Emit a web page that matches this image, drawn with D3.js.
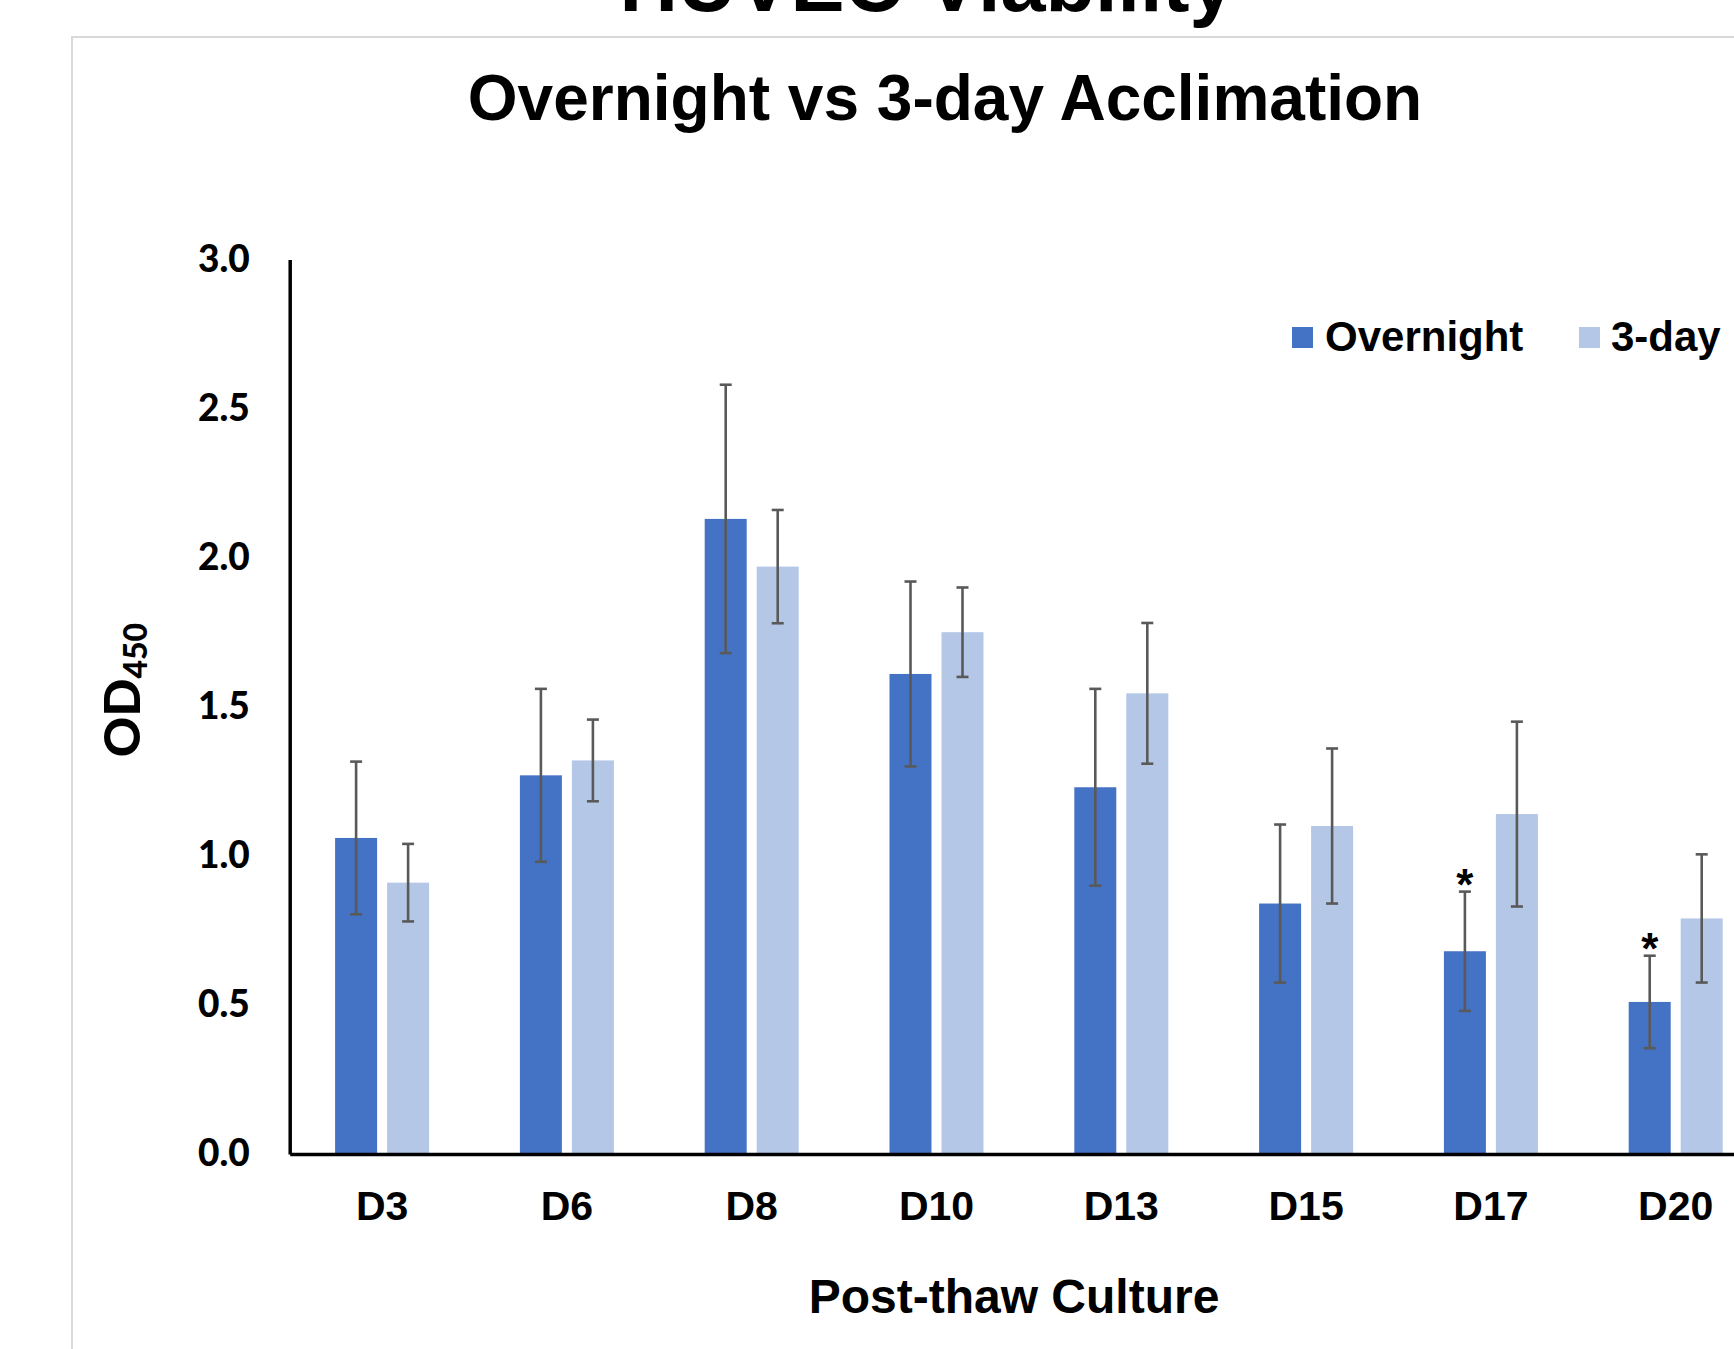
<!DOCTYPE html>
<html>
<head>
<meta charset="utf-8">
<script src="https://cdn.jsdelivr.net/npm/d3@7"></script>
<style>
  html, body { margin: 0; padding: 0; background: #ffffff; }
  svg { display: block; }
</style>
</head>
<body>
<script>
// Post-thaw viability (OD450) by culture day, overnight vs 3-day acclimation
const categories = ["D3", "D6", "D8", "D10", "D13", "D15", "D17", "D20"];
const seriesNames = ["Overnight", "3-day"];
const overnight = [1.06, 1.27, 2.13, 1.61, 1.23, 0.84, 0.68, 0.51];
const threeDay = [0.91, 1.32, 1.97, 1.75, 1.545, 1.10, 1.14, 0.79];
const overnightErr = [0.256, 0.29, 0.45, 0.31, 0.33, 0.265, 0.20, 0.155];
const threeDayErr = [0.13, 0.137, 0.19, 0.15, 0.236, 0.26, 0.31, 0.215];
const significant = ["D17", "D20"]; // overnight groups marked with *
const yTicks = [0.0, 0.5, 1.0, 1.5, 2.0, 2.5, 3.0];

const W = 1734, H = 1349;
const colors = { "Overnight": "#4472C4", "3-day": "#B4C7E7" };
const arial = "'Liberation Sans', Arial, sans-serif";
const calibri = "Lato, 'Open Sans', sans-serif";

const svg = d3.select("body").append("svg")
  .attr("width", W).attr("height", H);

// outer figure title (runs off the top edge)
svg.append("text")
  .attr("x", 927).attr("y", 11)
  .attr("text-anchor", "middle")
  .style("font-family", arial).style("font-weight", "bold")
  .style("font-size", "81px").attr("fill", "#000")
  .text("HUVEC Viability");

// chart frame
svg.append("rect")
  .attr("x", 72).attr("y", 37)
  .attr("width", 2000).attr("height", 2000)
  .attr("fill", "#fff").attr("stroke", "#d9d9d9").attr("stroke-width", 2);

// chart title
svg.append("text")
  .attr("x", 945).attr("y", 120)
  .attr("text-anchor", "middle")
  .style("font-family", arial).style("font-weight", "bold")
  .style("font-size", "64px").attr("fill", "#000")
  .text("Overnight vs 3-day Acclimation");

const left = 289.7, step = 184.8;
const x0 = d3.scaleBand().domain(categories)
  .range([left, left + step * categories.length]).padding(0);
const x1 = d3.scaleBand().domain(seriesNames)
  .range([x0.bandwidth() / 2 - 47, x0.bandwidth() / 2 + 47])
  .paddingInner(2 - 94 / 52).paddingOuter(0);
const y = d3.scaleLinear().domain([0, 3]).range([1154, 259.5]);

const rows = categories.map((c, i) => ({
  cat: c,
  values: [
    { s: "Overnight", v: overnight[i], e: overnightErr[i] },
    { s: "3-day", v: threeDay[i], e: threeDayErr[i] }
  ]
}));

const groups = svg.append("g").selectAll("g").data(rows).join("g")
  .attr("transform", d => `translate(${x0(d.cat)},0)`);

groups.selectAll("rect").data(d => d.values).join("rect")
  .attr("x", d => x1(d.s))
  .attr("y", d => y(d.v))
  .attr("width", x1.bandwidth())
  .attr("height", d => y(0) - y(d.v))
  .attr("fill", d => colors[d.s]);

// error bars
const eb = groups.selectAll("g.err").data(d => d.values).join("g")
  .attr("class", "err")
  .attr("stroke", "#595959").attr("stroke-width", 2.6).attr("fill", "none");
const cx = d => x1(d.s) + x1.bandwidth() / 2;
eb.append("line")
  .attr("x1", cx).attr("x2", cx)
  .attr("y1", d => y(d.v + d.e)).attr("y2", d => y(d.v - d.e));
eb.append("line")
  .attr("x1", d => cx(d) - 6).attr("x2", d => cx(d) + 6)
  .attr("y1", d => y(d.v + d.e)).attr("y2", d => y(d.v + d.e));
eb.append("line")
  .attr("x1", d => cx(d) - 6).attr("x2", d => cx(d) + 6)
  .attr("y1", d => y(d.v - d.e)).attr("y2", d => y(d.v - d.e));

// significance markers
groups.filter(d => significant.includes(d.cat))
  .append("text")
  .attr("x", d => x1("Overnight") + x1.bandwidth() / 2)
  .attr("y", d => y(d.values[0].v + d.values[0].e) + 8)
  .attr("text-anchor", "middle")
  .style("font-family", arial).style("font-weight", "bold")
  .style("font-size", "44px").attr("fill", "#000")
  .text("*");

// y axis
const yAxis = svg.append("g")
  .attr("transform", `translate(${left},0)`)
  .call(d3.axisLeft(y).tickValues(yTicks).tickFormat(d3.format(".1f"))
    .tickSize(0).tickPadding(40));
yAxis.select(".domain").attr("stroke", "#000").attr("stroke-width", 3.5);
yAxis.selectAll("text")
  .style("font-family", calibri).style("font-weight", "900")
  .style("font-size", "37px").attr("fill", "#000");

// x axis
const xAxis = svg.append("g")
  .attr("transform", `translate(0,${y(0)})`)
  .call(d3.axisBottom(x0).tickSize(0).tickPadding(37));
xAxis.select(".domain").attr("stroke", "#000").attr("stroke-width", 3.5);
xAxis.selectAll("text")
  .style("font-family", arial).style("font-weight", "bold")
  .style("font-size", "41px").attr("fill", "#000");

// axis titles
svg.append("text")
  .attr("x", 1014).attr("y", 1313)
  .attr("text-anchor", "middle")
  .style("font-family", arial).style("font-weight", "bold")
  .style("font-size", "48px").attr("fill", "#000")
  .text("Post-thaw Culture");

const yTitle = svg.append("text")
  .attr("transform", "translate(140,690) rotate(-90)")
  .attr("text-anchor", "middle")
  .style("font-family", calibri).style("font-weight", "900")
  .style("font-size", "50px").attr("fill", "#000");
yTitle.append("tspan").text("OD");
yTitle.append("tspan").attr("dy", 7).style("font-size", "32px").text("450");

// legend
const legend = svg.append("g").selectAll("g").data(seriesNames).join("g")
  .attr("transform", (d, i) => `translate(${[1292, 1579][i]},0)`);
legend.append("rect")
  .attr("x", 0).attr("y", 327).attr("width", 21).attr("height", 21)
  .attr("fill", d => colors[d]);
legend.append("text")
  .attr("x", (d, i) => [33, 32][i]).attr("y", 351)
  .style("font-family", arial).style("font-weight", "bold")
  .style("font-size", "42px").attr("fill", "#000")
  .text(d => d);
</script>
</body>
</html>
